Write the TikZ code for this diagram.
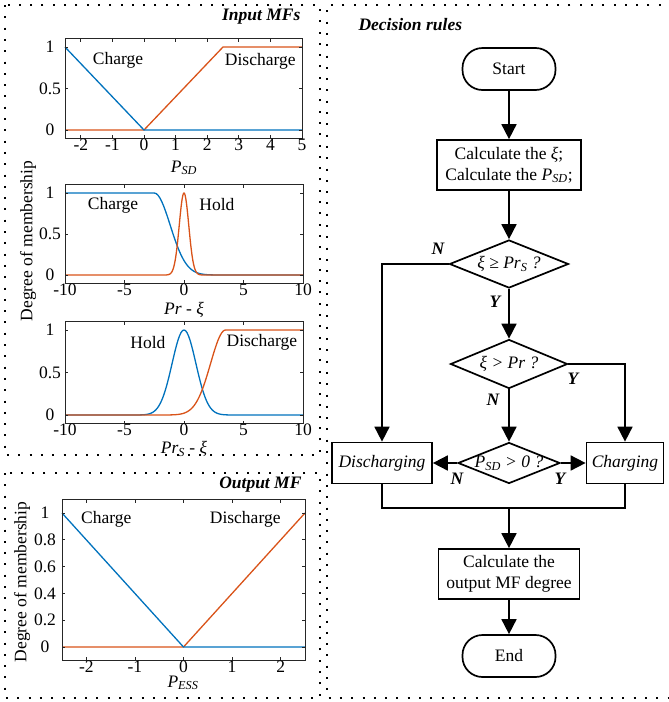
\documentclass[tikz,border=0pt]{standalone}
\usepackage{fontspec}
\setmainfont{Liberation Serif}
\usetikzlibrary{arrows.meta, positioning, shapes.geometric}

\definecolor{mblue}{rgb}{0,0.447,0.741}
\definecolor{morange}{rgb}{0.85,0.325,0.098}
\definecolor{axgray}{gray}{0.15}

\begin{document}
\begin{tikzpicture}[
        x=1pt, y=-1pt,
        font=\fontsize{17.5}{21}\selectfont,
        frame/.style={line width=2pt, dash pattern=on 2pt off 9.3pt},
        axbox/.style={draw=axgray, line width=1pt},
        axtick/.style={axgray, line width=0.8pt},
        blueline/.style={mblue, line width=1.3pt},
        orangeline/.style={morange, line width=1.3pt},
        term/.style={draw, line width=1.7pt, rounded corners=20pt, minimum width=93pt, minimum height=42pt},
        proc/.style={draw, line width=1.7pt, align=center, inner sep=2pt},
        dec/.style={draw, diamond, line width=1.7pt, inner sep=0pt},
        arr/.style={line width=1.7pt, -{Triangle[length=15pt,width=15pt]}},
        yn/.style={font=\fontsize{17.5}{21}\selectfont\bfseries\itshape},
        ttl/.style={font=\fontsize{17.5}{21}\selectfont\bfseries\itshape}
    ]
    \useasboundingbox (0,0) rectangle (669,702);

    % --- dotted frames ---
    \draw[frame] (5,5) rectangle (320,455);
    \draw[frame] (5,473) rectangle (320,698);
    \draw[frame] (672,5) -- (327,5) -- (327,698) -- (672,698);

    \node[ttl, anchor=east] (ttlin) at (304,17) {Input MFs};
    \node[ttl, anchor=east] (ttlout) at (305,485) {Output MF};
    \node[ttl, anchor=west] (ttlrule) at (355,25) {Decision rules};

    \node[rotate=90] (ylab1) at (28,241) {Degree of membership};
    \node[rotate=90] (ylab2) at (22,582) {Degree of membership};

    % --- (1) input MF of P_SD ---
    \begin{scope}[shift={(144,130)}, x=31.6pt, y=83pt]
        \draw[orangeline] (-2.5,0) -- (0,0) -- (2.5,1) -- (5,1);
        \draw[blueline] (-2.5,1) -- (0,0) -- (5,0);
        \draw[axbox] (-2.5,-0.1) rectangle (5,1.1);
        \foreach \t in {-2,...,5} {
            \draw[axtick] (\t,-0.1) -- ++(0,3pt);
            \draw[axtick] (\t,1.1) -- ++(0,-3pt);
            \node[anchor=north, inner sep=0.5pt] (ax\t) at (\t,-0.1) {\t};
        }
        \foreach \t in {0,0.5,1} {
            \draw[axtick] (-2.5,\t) -- ++(3pt,0);
            \draw[axtick] (5,\t) -- ++(-3pt,0);
            \node[xshift=-15pt] (ay\t) at (-2.5,\t) {\t};
        }
        \node (chg1) at (-0.82,0.84) {Charge};
        \node (dis1) at (3.68,0.83) {Discharge};
    \end{scope}
    \node (xlab1) at (184,168) {\textit{P}\textsubscript{\textit{SD}}};

    % --- (2) input MF of Pr - xi ---
    \begin{scope}[shift={(184,275)}, x=11.9pt, y=82pt]
        \draw[blueline] (-10,1) -- (-2.5,1) -- plot[domain=-2.5:10, samples=80] (\x,{exp(-(\x+2.5)*(\x+2.5)/3.6)});
        \draw[orangeline] (-10,0) -- (-2,0) -- plot[domain=-2:2, samples=81] (\x,{exp(-(\x)*(\x)/0.32)}) -- (10,0);
        \draw[axbox] (-10,-0.1) rectangle (10,1.1);
        \foreach \t in {-10,-5,0,5,10} {
            \draw[axtick] (\t,-0.1) -- ++(0,3pt);
            \draw[axtick] (\t,1.1) -- ++(0,-3pt);
            \node[anchor=north, inner sep=0.5pt] (bx\t) at (\t,-0.1) {\t};
        }
        \foreach \t in {0,0.5,1} {
            \draw[axtick] (-10,\t) -- ++(3pt,0);
            \draw[axtick] (10,\t) -- ++(-3pt,0);
            \node[xshift=-15pt] (by\t) at (-10,\t) {\t};
        }
        \node (chg2) at (-5.97,0.85) {Charge};
        \node (hld2) at (2.77,0.86) {Hold};
    \end{scope}
    \node (xlab2) at (184,310) {\textit{Pr} - \textit{ξ}};

    % --- (3) input MF of Pr_S - xi ---
    \begin{scope}[shift={(184,415)}, x=11.9pt, y=85pt]
        \draw[blueline] (-10,0) -- (-5,0) -- plot[domain=-5:5, samples=81] (\x,{exp(-(\x)*(\x)/2)}) -- (10,0);
        \draw[orangeline] (-10,0) -- (-3,0) -- plot[domain=-3:3.5, samples=60] (\x,{exp(-(\x-3.5)*(\x-3.5)/3.2)}) -- (10,1);
        \draw[axbox] (-10,-0.1) rectangle (10,1.1);
        \foreach \t in {-10,-5,0,5,10} {
            \draw[axtick] (\t,-0.1) -- ++(0,3pt);
            \draw[axtick] (\t,1.1) -- ++(0,-3pt);
            \node[anchor=north, inner sep=0.5pt] (cx\t) at (\t,-0.1) {\t};
        }
        \foreach \t in {0,0.5,1} {
            \draw[axtick] (-10,\t) -- ++(3pt,0);
            \draw[axtick] (10,\t) -- ++(-3pt,0);
            \node[xshift=-15pt] (cy\t) at (-10,\t) {\t};
        }
        \node (hld3) at (-3.03,0.85) {Hold};
        \node (dis3) at (6.55,0.85) {Discharge};
    \end{scope}
    \node (xlab3) at (184,449) {\textit{Pr}\textsubscript{\textit{S}} - \textit{ξ}};

    % --- (4) output MF of P_ESS ---
    \begin{scope}[shift={(183.5,647)}, x=48.6pt, y=134pt]
        \draw[orangeline] (-2.5,0) -- (0,0) -- (2.5,1);
        \draw[blueline] (-2.5,1) -- (0,0) -- (2.5,0);
        \draw[axbox] (-2.5,-0.1) rectangle (2.5,1.1);
        \foreach \t in {-2,...,2} {
            \draw[axtick] (\t,-0.1) -- ++(0,3pt);
            \draw[axtick] (\t,1.1) -- ++(0,-3pt);
            \node[anchor=north, inner sep=0.5pt] (dx\t) at (\t,-0.1) {\t};
        }
        \foreach \t in {0,0.2,0.4,0.6,0.8,1} {
            \draw[axtick] (-2.5,\t) -- ++(3pt,0);
            \draw[axtick] (2.5,\t) -- ++(-3pt,0);
            \node[xshift=-17pt] (dy\t) at (-2.5,\t) {\t};
        }
        \node (chg4) at (-1.59,0.95) {Charge};
        \node (dis4) at (1.27,0.95) {Discharge};
    \end{scope}
    \node (xlab4) at (183,683) {\textit{P}\textsubscript{\textit{ESS}}};

    % --- decision rules flowchart ---
    \node[term] (start) at (509,69) {Start};
    \node[proc, minimum width=144pt, minimum height=50pt] (calc1) at (509,165)
        {Calculate the \textit{ξ};\\Calculate the \textit{P}\textsubscript{\textit{SD}};};
    \node[dec, minimum width=119pt, minimum height=48pt,
          label=center:{\textit{ξ ≥ Pr\textsubscript{S} ?}}] (dec1) at (509,264) {};
    \node[dec, minimum width=117pt, minimum height=49pt,
          label=center:{\textit{ξ > Pr ?}}] (dec2) at (509,364) {};
    \node[dec, minimum width=102pt, minimum height=41pt,
          label=center:{\textit{P\textsubscript{SD} > 0 ?}}] (dec3) at (509,463) {};
    \node[proc, minimum width=100pt, minimum height=41pt] (dis) at (382,463) {\textit{Discharging}};
    \node[proc, minimum width=77pt, minimum height=41pt] (chg) at (625,463) {\textit{Charging}};
    \coordinate (mrg) at (509,508);
    \node[proc, minimum width=141pt, minimum height=50pt] (calc2) at (509,574)
        {Calculate the\\output MF degree};
    \node[term] (end) at (509,656) {End};

    \draw[arr] (start) -- (calc1);
    \draw[arr] (calc1) -- (dec1);
    \draw[arr] (dec1.west) -| (dis.north);
    \draw[arr] (dec1.south) -- (dec2.north);
    \draw[arr] (dec2.east) -| (chg.north);
    \draw[arr] (dec2.south) -- (dec3.north);
    \draw[arr] (dec3.west) -- (dis.east);
    \draw[arr] (dec3.east) -- (chg.west);
    \draw[line width=1.7pt] (dis.south) |- (mrg) -| (chg.south);
    \draw[arr] (mrg) -- (calc2);
    \draw[arr] (calc2) -- (end);

    \node[yn] (n1) at (438,249) {N};
    \node[yn] (y1) at (495,302) {Y};
    \node[yn] (y2) at (573,379) {Y};
    \node[yn] (n2) at (493,400) {N};
    \node[yn] (n3) at (457,479) {N};
    \node[yn] (y3) at (560,479) {Y};
\end{tikzpicture}
\end{document}
